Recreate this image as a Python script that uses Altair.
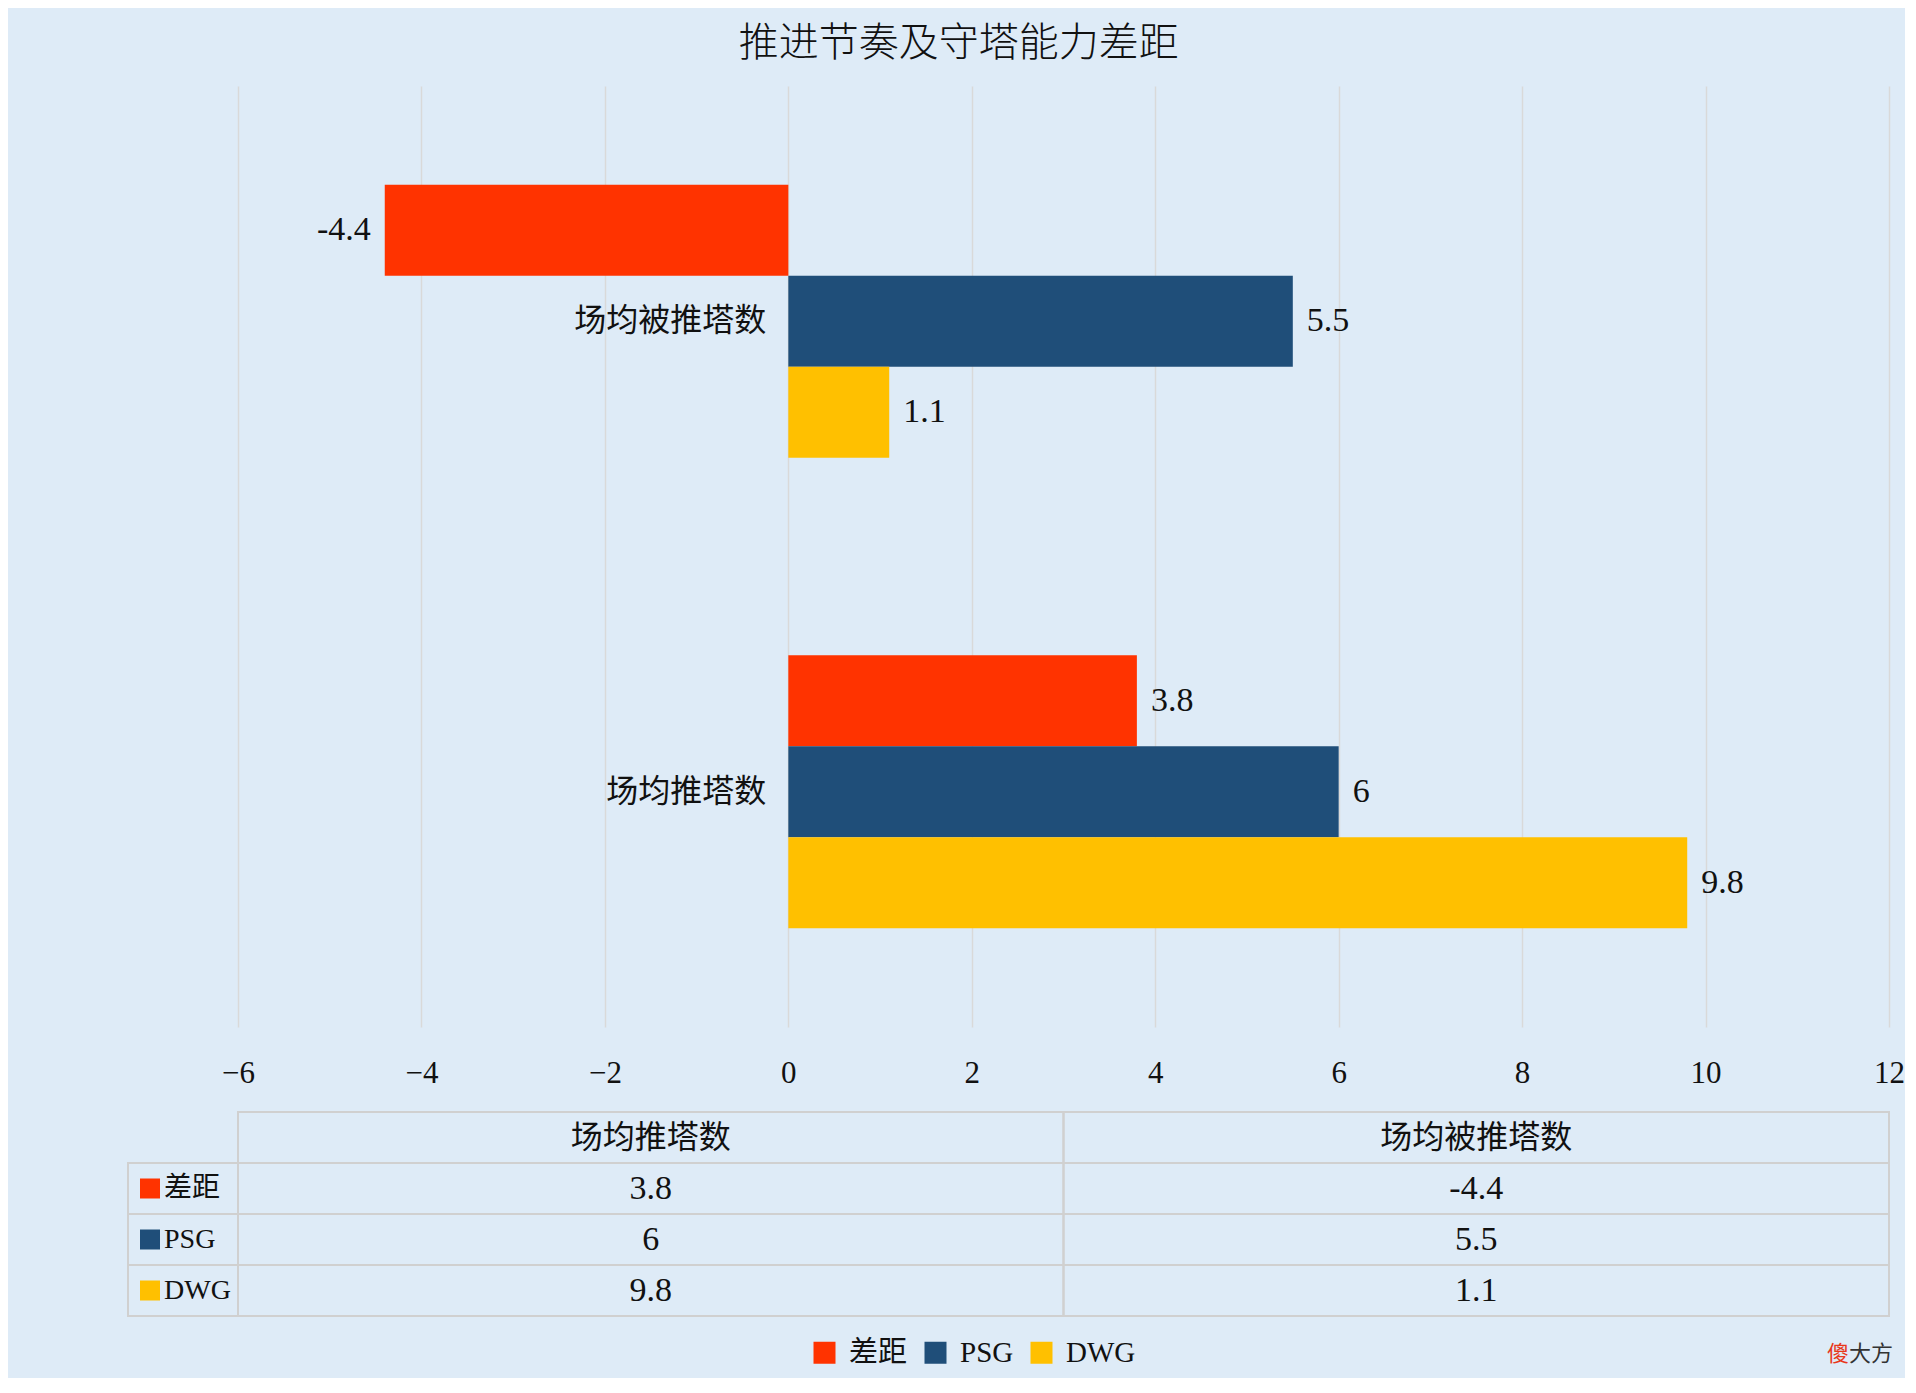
import altair as alt
import pandas as pd

# ---------------- data ----------------
title_text = "推进节奏及守塔能力差距"
categories = ["场均推塔数", "场均被推塔数"]          # table column order
y_order = ["场均被推塔数", "场均推塔数"]             # top-to-bottom order in the bar chart
series = ["差距", "PSG", "DWG"]
colors = ["#FF3300", "#1F4E79", "#FFC000"]
gap_values = [3.8, -4.4]
psg_values = [6, 5.5]
dwg_values = [9.8, 1.1]
x_ticks = [-6, -4, -2, 0, 2, 4, 6, 8, 10, 12]
watermark_red = "傻"
watermark_dark = "大方"

series_values = {"差距": gap_values, "PSG": psg_values, "DWG": dwg_values}
rows = []
for s in series:
    for c, v in zip(categories, series_values[s]):
        rows.append({"series": s, "category": c, "value": v, "label": f"{v:g}"})
df = pd.DataFrame(rows)

CJK = "Noto Sans CJK SC"
NUM = "Liberation Serif, Noto Sans CJK SC"
GRID = "#D9D9D9"
INK = "#111111"

color = alt.Color(
    "series:N",
    sort=series,
    scale=alt.Scale(domain=series, range=colors),
    legend=alt.Legend(
        title=None, orient="none", direction="horizontal",
        legendX=572, legendY=1252,
        symbolType="square", symbolSize=484, symbolStrokeWidth=0,
        labelFont=NUM, labelFontSize=29, labelColor=INK,
        labelOffset=10, columnPadding=13,
    ),
)

# ---------------- bar chart ----------------
x_enc = alt.X(
    "value:Q",
    scale=alt.Scale(domain=[-6, 12], nice=False, zero=False),
    axis=alt.Axis(
        values=x_ticks, format="d", title=None, grid=True, gridColor=GRID, gridWidth=1.5,
        domain=False, ticks=False, labelFont=NUM, labelFontSize=31,
        labelColor=INK, labelPadding=31, labelFlush=False,
    ),
)
y_enc = alt.Y("category:N", sort=y_order,
              scale=alt.Scale(domain=y_order, paddingInner=0.42, paddingOuter=0.21),
              axis=None)
yoff_enc = alt.YOffset("series:N", sort=series,
                       scale=alt.Scale(domain=series, paddingInner=0, paddingOuter=0))

base = alt.Chart(df)
bars = base.mark_bar().encode(x=x_enc, y=y_enc, yOffset=yoff_enc, color=color)

pos_labels = base.transform_filter("datum.value >= 0").mark_text(
    align="left", baseline="middle", dx=14, font=NUM, fontSize=34, color=INK
).encode(x="value:Q", y=alt.Y("category:N", sort=y_order, axis=None),
         yOffset=yoff_enc, text="label:N")
neg_labels = base.transform_filter("datum.value < 0").mark_text(
    align="right", baseline="middle", dx=-14, font=NUM, fontSize=34, color=INK
).encode(x="value:Q", y=alt.Y("category:N", sort=y_order, axis=None),
         yOffset=yoff_enc, text="label:N")

cat_df = pd.DataFrame({"category": categories})
cat_labels = alt.Chart(cat_df).mark_text(
    align="right", baseline="middle", dx=-22, font=CJK, fontSize=32, color=INK
).encode(x=alt.datum(0), y=alt.Y("category:N", sort=y_order, axis=None),
         text="category:N")

top = alt.layer(bars, pos_labels, neg_labels, cat_labels).properties(width=1651, height=941)

# ---------------- data table ----------------
table_rows = ["_header"] + series
header_df = pd.DataFrame({"row": ["_header"] * len(categories), "col": categories,
                          "text": categories})
value_df = pd.DataFrame({"row": df["series"], "col": df["category"], "text": df["label"]})
cells_df = pd.concat([header_df, value_df], ignore_index=True)

tx = alt.X("col:N", sort=categories,
           scale=alt.Scale(domain=categories, paddingInner=0, paddingOuter=0), axis=None)
ty = alt.Y("row:N", sort=table_rows,
           scale=alt.Scale(domain=table_rows, paddingInner=0, paddingOuter=0), axis=None)

tbase = alt.Chart(cells_df)
cell_rects = tbase.mark_rect(fillOpacity=0, stroke="#D0D0D0", strokeWidth=2).encode(x=tx, y=ty)
header_text = tbase.transform_filter("datum.row == '_header'").mark_text(
    font=CJK, fontSize=32, color=INK, baseline="middle"
).encode(x=tx, y=ty, text="text:N")
value_text = tbase.transform_filter("datum.row != '_header'").mark_text(
    font=NUM, fontSize=34, color=INK, baseline="middle"
).encode(x=tx, y=ty, text="text:N")

key_df = pd.DataFrame({"row": series, "series": series})
kbase = alt.Chart(key_df)
key_rects = kbase.mark_rect(fillOpacity=0, stroke="#D0D0D0", strokeWidth=2).encode(
    x=alt.value(-110), x2=alt.value(0), y=ty)
key_squares = kbase.mark_square(size=400, opacity=1).encode(
    x=alt.value(-88), y=ty, color=color)
key_text = kbase.mark_text(align="left", baseline="middle", font=NUM, fontSize=28,
                           color=INK).encode(x=alt.value(-74), y=ty, text="series:N")

wm_df = pd.DataFrame({"a": [watermark_red], "b": [watermark_dark]})
wm1 = alt.Chart(wm_df).mark_text(align="left", baseline="middle", font=CJK, fontSize=22,
                                 color="#E8381B").encode(
    x=alt.value(1589), y=alt.value(242), text="a:N")
wm2 = alt.Chart(wm_df).mark_text(align="left", baseline="middle", font=CJK, fontSize=22,
                                 color="#333333").encode(
    x=alt.value(1611), y=alt.value(242), text="b:N")

table = alt.layer(cell_rects, header_text, value_text, key_rects, key_squares, key_text,
                  wm1, wm2).properties(width=1651, height=204)

chart = alt.vconcat(top, table, spacing=85).properties(
    bounds="flush",
    title=alt.TitleParams(title_text, font=CJK, fontSize=40, fontWeight=300,
                          color=INK, anchor="middle", offset=22, dx=-57),
    padding={"left": 119, "top": 16, "right": 0, "bottom": 10},
).configure(
    background="#DEEBF7",
).configure_view(stroke=None)

chart.save("out.html", embed_options={"renderer": "svg", "actions": False})
